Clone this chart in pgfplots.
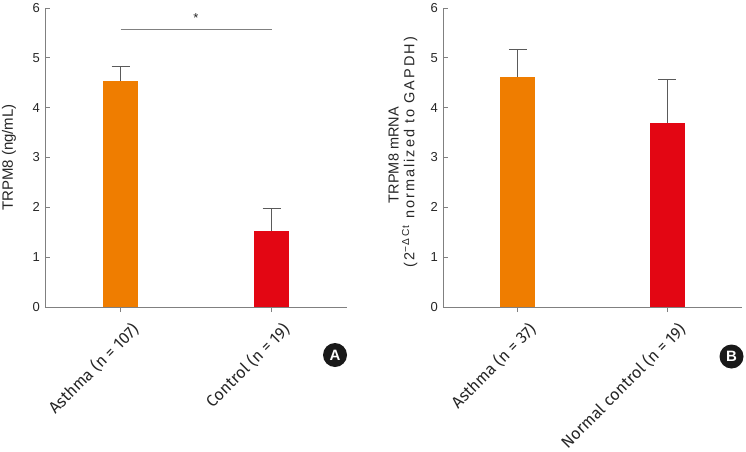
\documentclass[border=0pt]{standalone}
\usepackage{pgfplots}
\pgfplotsset{compat=1.18}
\usepackage{fontspec}
\setmainfont{Liberation Sans}
\newfontfamily\fira{Fira Sans}
\newfontfamily\widesans[LetterSpace=14]{Liberation Sans}
\definecolor{cOrange}{HTML}{EF7D00}
\definecolor{cRed}{HTML}{E30613}
\definecolor{cAxis}{HTML}{808080}
\definecolor{cErr}{HTML}{5A5A5A}
\definecolor{cText}{HTML}{262626}
\pgfplotsset{
  panel/.style={
    scale only axis,
    height=299pt,
    ymin=0, ymax=6,
    xmin=-0.5, xmax=1.5,
    axis x line=bottom, axis y line=left,
    axis line style={-, cAxis, line width=0.9pt},
    every tick/.style={cAxis, line width=0.9pt},
    xtick align=outside, ytick align=inside,
    major tick length=5pt,
    ytick={0,1,2,3,4,5,6},
    xtick={0,1},
    /pgf/number format/assume math mode=true,
    yticklabel style={font=\fontsize{13}{15}\selectfont, text=cText, inner sep=0pt, xshift=-5pt},
    xticklabel style={font=\fira\fontsize{16.3}{19}\selectfont, text=cText, rotate=45, anchor=east, inner sep=0pt, xshift=1pt, yshift=-21pt},
    clip=false,
  },
  errstyle/.style={
    error bars/.cd, y dir=plus, y explicit,
    error bar style={cErr, line width=0.9pt},
    error mark options={cErr, line width=0.9pt, mark size=9pt, rotate=90},
  },
}
\begin{document}
\begin{tikzpicture}
\path[use as bounding box] (0,0) rectangle (746pt,451pt);
% Panel A
\begin{axis}[panel, at={(45pt,144pt)}, anchor=south west, width=302pt,
  xticklabels={Asthma (n = 107), Control (n = 19)},
  ylabel={TRPM8 (ng/mL)},
  ylabel style={at={(axis description cs:-0.119,0.5)}, anchor=center, rotate=0, font=\fontsize{15}{17}\selectfont, text=cText},
]
\addplot[ybar, bar width=35pt, bar shift=0pt, fill=cOrange, draw=none, errstyle]
  coordinates {(0,4.54) +- (0,0.28)};
\addplot[ybar, bar width=35pt, bar shift=0pt, fill=cRed, draw=none, errstyle]
  coordinates {(1,1.52) +- (0,0.45)};
\addplot[sharp plot, no marks, cAxis, line width=0.9pt] coordinates {(0,5.56) (1,5.56)};
\node[font=\fontsize{13}{15}\selectfont, text=cText] at (axis cs:0.5,5.8) {*};
\end{axis}
% Panel B
\begin{axis}[panel, at={(443pt,144pt)}, anchor=south west, width=299pt,
  xticklabels={Asthma (n = 37), Normal control (n = 19)},
]
\addplot[ybar, bar width=35pt, bar shift=0pt, fill=cOrange, draw=none, errstyle]
  coordinates {(0,4.62) +- (0,0.54)};
\addplot[ybar, bar width=35pt, bar shift=0pt, fill=cRed, draw=none, errstyle]
  coordinates {(1,3.70) +- (0,0.87)};
\node[rotate=90, font=\fontsize{14.5}{17}\selectfont, text=cText] at (axis description cs:-0.165,0.508) {TRPM8 mRNA};
\node[rotate=90, font=\widesans\fontsize{14.5}{17}\selectfont, text=cText] at (axis description cs:-0.111,0.518) {(2\textsuperscript{−ΔCt} normalized to GAPDH)};
\end{axis}
\node[circle, fill=black!90, text=white, minimum size=24pt, inner sep=0pt, font=\bfseries\fontsize{15}{17}\selectfont] at (335pt,96pt) {A};
\node[circle, fill=black!90, text=white, minimum size=24pt, inner sep=0pt, font=\bfseries\fontsize{15}{17}\selectfont] at (731.5pt,94.5pt) {B};
\end{tikzpicture}
\end{document}
